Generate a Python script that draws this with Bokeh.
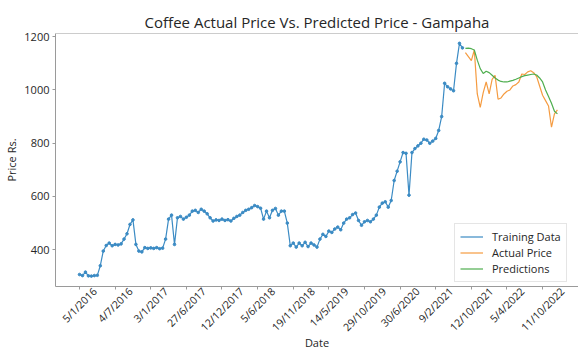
from math import pi
from bokeh.plotting import figure
from bokeh.models import FixedTicker, Legend, LegendItem, LinearAxis, Range1d, Span
from bokeh.embed import file_html
from bokeh.resources import INLINE

# ---------------- data ----------------
tick_labels = ["5/1/2016", "4/7/2016", "3/1/2017", "27/6/2017", "12/12/2017",
               "5/6/2018", "19/11/2018", "14/5/2019", "29/10/2019", "30/6/2020",
               "9/2/2021", "12/10/2021", "5/4/2022", "11/10/2022"]
points_per_tick = 12

training = [307, 303, 316, 302, 301, 303, 304, 340, 395, 416,
            425, 415, 420, 418, 422, 440, 460, 495, 512, 420,
            395, 392, 408, 405, 407, 405, 408, 404, 406, 440,
            515, 530, 420, 520, 525, 515, 522, 530, 545, 548,
            540, 552, 545, 535, 520, 508, 512, 510, 515, 510,
            513, 508, 518, 525, 530, 540, 548, 552, 558, 566,
            562, 556, 515, 545, 520, 548, 555, 530, 545, 545,
            500, 415, 425, 410, 425, 415, 428, 412, 425, 418,
            410, 440, 458, 450, 470, 465, 478, 485, 475, 500,
            515, 520, 532, 538, 510, 492, 505, 510, 505, 515,
            530, 560, 575, 580, 560, 585, 660, 695, 730, 765,
            762, 605, 765, 780, 790, 800, 815, 812, 800, 808,
            818, 848, 900, 1025, 1012, 1004, 997, 1100, 1175, 1158]

actual = [1140, 1125, 1110, 1150, 985, 935, 990, 1030, 985, 1040,
          1055, 965, 970, 985, 995, 1000, 1015, 1020, 1030, 1060,
          1058, 1068, 1072, 1065, 1050, 1015, 980, 960, 940, 860,
          910, 925]

predictions = [1156, 1157, 1155, 1150, 1112, 1080, 1062, 1070, 1065, 1055,
               1045, 1037, 1032, 1030, 1030, 1033, 1036, 1040, 1045, 1050,
               1054, 1056, 1058, 1060, 1056, 1045, 1030, 1000, 975, 950,
               920, 910]

y_ticks = [400, 600, 800, 1000, 1200]

# ---------------- styling ----------------
FONT = "Open Sans"
TXT = "#262626"
AX = "#9a9a9a"
BLUE = "#3b8bc4"
ORANGE = "#f59b40"
GREEN = "#4fae4f"

W, H = 578, 356
LEFT, TOP, BOTTOM = 55, 33, 70
X0, X1 = -8.09, 168.1
Y0, Y1 = 262, 1212
PX_PER_IDX = (W - LEFT) / (X1 - X0)
XFS = 10.5  # x tick label font size (px)

x_train = list(range(len(training)))
x_test = list(range(len(training), len(training) + len(actual)))
tick_pos = [i * points_per_tick for i in range(len(tick_labels))]

p = figure(width=W, height=H, output_backend="svg", toolbar_location=None,
           x_range=Range1d(X0, X1), y_range=Range1d(Y0, Y1),
           min_border_left=LEFT, min_border_right=0,
           min_border_top=TOP, min_border_bottom=BOTTOM,
           title="Coffee Actual Price Vs. Predicted Price - Gampaha")
p.outline_line_color = None
p.xgrid.visible = False
p.ygrid.visible = False
p.background_fill_color = "white"
p.border_fill_color = "white"

p.title.align = "center"
p.title.text_font = FONT
p.title.text_font_size = "15px"
p.title.text_font_style = "normal"
p.title.text_color = TXT
p.title.standoff = 4

# y axis
ya = p.yaxis[0]
ya.ticker = FixedTicker(ticks=y_ticks)
ya.major_label_text_font = FONT
ya.major_label_text_font_size = "11px"
ya.major_label_text_color = TXT
ya.major_tick_in = 0
ya.major_tick_out = 3
ya.minor_tick_out = 0
ya.minor_tick_in = 0
ya.axis_line_color = AX
ya.major_tick_line_color = AX
ya.major_label_standoff = 3
ya.axis_label = "Price Rs."
ya.axis_label_text_font = FONT
ya.axis_label_text_font_size = "11px"
ya.axis_label_text_font_style = "normal"
ya.axis_label_text_color = TXT
ya.axis_label_standoff = 2

# x axis: tick marks only
xa = p.xaxis[0]
xa.ticker = FixedTicker(ticks=tick_pos)
xa.major_label_text_alpha = 0
xa.major_label_text_font_size = "0px"
xa.major_label_standoff = 0
xa.major_tick_in = 0
xa.major_tick_out = 3
xa.minor_tick_out = 0
xa.minor_tick_in = 0
xa.axis_line_color = AX
xa.major_tick_line_color = AX

# second x axis: rotated tick labels whose box is centred on each tick
CW = {"/": 0.371}
def text_w(s):
    return sum(CW.get(c, 0.572) for c in s) * XFS

label_pos = [round(t + 0.354 * text_w(s) / PX_PER_IDX, 3) for t, s in zip(tick_pos, tick_labels)]
xl = LinearAxis(ticker=FixedTicker(ticks=label_pos),
                major_label_overrides={lp: s for lp, s in zip(label_pos, tick_labels)},
                major_label_orientation=pi / 4,
                major_label_text_font=FONT, major_label_text_font_size=f"{XFS}px",
                major_label_text_color=TXT, major_label_standoff=0,
                axis_line_color=None, major_tick_line_color=None,
                minor_tick_line_color=None, major_tick_out=0, minor_tick_out=0,
                major_tick_in=0, minor_tick_in=0,
                axis_label="Date", axis_label_text_font=FONT,
                axis_label_text_font_size="11px", axis_label_text_font_style="normal",
                axis_label_text_color=TXT, axis_label_standoff=-7)
p.add_layout(xl, "below")

# top border line
p.add_layout(Span(location=Y1, dimension="width", line_color=AX, line_width=1))

# series
r_tl = p.line(x_train, training, line_color=BLUE, line_width=1.2)
r_tp = p.scatter(x_train, training, size=2.6, color=BLUE)
r_a = p.line(x_test, actual, line_color=ORANGE, line_width=1.2)
r_p = p.line(x_test, predictions, line_color=GREEN, line_width=1.2)

legend = Legend(items=[LegendItem(label="Training Data", renderers=[r_tl]),
                       LegendItem(label="Actual Price", renderers=[r_a]),
                       LegendItem(label="Predictions", renderers=[r_p])],
                location=(399, 4), label_text_font=FONT, label_text_font_size="11px",
                label_text_color=TXT, glyph_width=23, glyph_height=15,
                label_height=15, spacing=1, padding=5, label_standoff=9,
                border_line_color="#cccccc", background_fill_alpha=0.85, margin=0)
p.add_layout(legend)

open("out.html", "w").write(file_html(p, INLINE))
